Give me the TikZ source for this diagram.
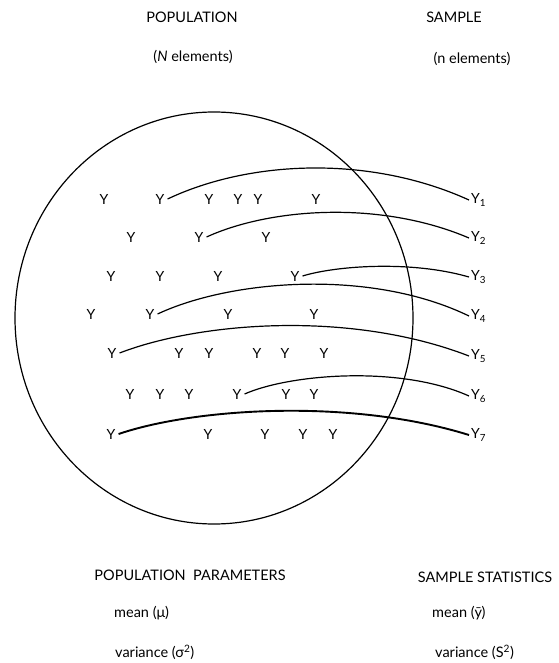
\documentclass[tikz,border=0pt]{standalone}
\usepackage{fontspec}
\setmainfont{Lato}
\begin{document}
\begin{tikzpicture}[x=1pt,y=-1pt,
  txt/.style={font=\fontsize{14.5}{17}\selectfont, inner sep=0pt},
  yel/.style={font=\fontsize{14}{16}\selectfont, inner sep=3pt},
  lab/.style={font=\fontsize{14}{16}\selectfont, inner sep=2pt, anchor=west},
  link/.style={line width=1.2pt},
  thick link/.style={line width=1.9pt},
  ring/.style={line width=1.2pt}]
\useasboundingbox (0,0) rectangle (558,663);
% headings
\node[txt] (pop) at (192,17) {POPULATION};
\node[txt] (popn) at (193,57) {(\textit{N} elements)};
\node[txt] (samp) at (454,17) {SAMPLE};
\node[txt] (sampn) at (472,59) {(n elements)};
% population circle
\draw[ring] (214,318) ellipse [x radius=199, y radius=206];
% population elements
\foreach \x [count=\i] in {104,160,209,238,258,316} \node[yel] (a\i) at (\x,199) {Y};
\foreach \x [count=\i] in {131,199,266} \node[yel] (b\i) at (\x,237) {Y};
\foreach \x [count=\i] in {111,160,218,295} \node[yel] (c\i) at (\x,276) {Y};
\foreach \x [count=\i] in {91,150,228,314} \node[yel] (d\i) at (\x,314) {Y};
\foreach \x [count=\i] in {112,179,209,257,285,324} \node[yel] (e\i) at (\x,353) {Y};
\foreach \x [count=\i] in {130,160,189,237,286,314} \node[yel] (f\i) at (\x,394) {Y};
\foreach \x [count=\i] in {111,208,265,303,333} \node[yel] (g\i) at (\x,434) {Y};
% sample elements
\node[lab] (s1) at (469,200) {Y\textsubscript{1}};
\node[lab] (s2) at (469,238) {Y\textsubscript{2}};
\node[lab] (s3) at (469,277) {Y\textsubscript{3}};
\node[lab] (s4) at (469,316) {Y\textsubscript{4}};
\node[lab] (s5) at (469,356) {Y\textsubscript{5}};
\node[lab] (s6) at (469,396) {Y\textsubscript{6}};
\node[lab] (s7) at (469,435) {Y\textsubscript{7}};
% selection curves
\draw[link] (a2.east) .. controls (250,160) and (370,155) .. (s1.west);
\draw[link] (b2.east) .. controls (270,208) and (380,200) .. (s2.west);
\draw[link] (c4.east) .. controls (335,266) and (410,260) .. (s3.west);
\draw[link] (d2.east) .. controls (230,280) and (370,268) .. (s4.west);
\draw[link] (e1.east) .. controls (200,322) and (350,310) .. (s5.west);
\draw[link] (f4.east) .. controls (290,374) and (400,365) .. (s6.west);
\draw[thick link] (g1.east) .. controls (195,408) and (350,398) .. (s7.west);
% bottom labels
\node[txt] (pp) at (190,575) {POPULATION\ \ PARAMETERS};
\node[txt,anchor=west] (pmean) at (114,613) {mean (μ)};
\node[txt,anchor=west] (pvar) at (115,652) {variance (σ\textsuperscript{2})};
\node[txt] (ss) at (485,577) {SAMPLE STATISTICS};
\node[txt,anchor=west] (smean) at (432,613) {mean (\=y)};
\node[txt,anchor=west] (svar) at (435,652) {variance (S\textsuperscript{2})};
\end{tikzpicture}
\end{document}
